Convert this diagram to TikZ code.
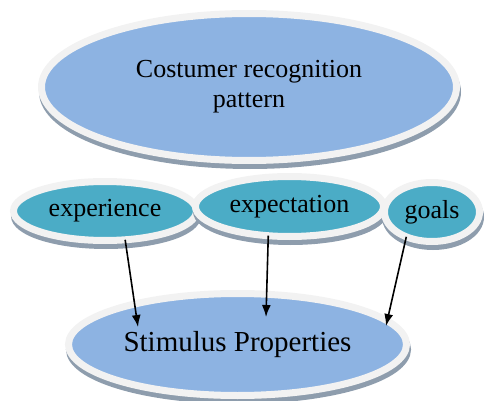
\documentclass[tikz,border=0pt]{standalone}
\usepackage{fontspec}
\setmainfont{Liberation Serif}
\usetikzlibrary{shapes, arrows.meta, shadows, calc}
\definecolor{ovalblue}{HTML}{8DB3E2}
\definecolor{ovalteal}{HTML}{4BACC6}
\definecolor{rimgray}{HTML}{F2F2F2}
\definecolor{shadegray}{HTML}{8E9DAD}
\tikzset{oval/.style={ellipse, draw=rimgray, line width=7pt, inner sep=0pt, outer sep=0pt, align=center,
           drop shadow={shadow xshift=1pt, shadow yshift=-5pt, fill=shadegray, draw=shadegray, line width=7pt, opacity=1}},
         bigoval/.style={oval, fill=ovalblue},
         smalloval/.style={oval, fill=ovalteal, font=\fontsize{26}{30}\selectfont},
         link/.style={->, line width=1.6pt}}

\begin{document}
\begin{tikzpicture}[x=1pt, y=1pt, >={Latex[length=12pt, width=9pt]}]
        \useasboundingbox (0,0) rectangle (485,400);
        \node[bigoval, minimum width=415pt, minimum height=147pt, font=\fontsize{26}{30}\selectfont] (pattern) at (249,313) {Costumer recognition\\pattern};
        \node[smalloval, minimum width=183pt, minimum height=59pt] (experience) at (105,189) {experience};
        \node[smalloval, minimum width=188pt, minimum height=60pt] (expectation) at (289.5,193.5) {expectation};
        \node[smalloval, minimum width=95pt, minimum height=59pt] (goals) at (432,188) {goals};
        \node[bigoval, minimum width=338pt, minimum height=102pt, font=\fontsize{29}{34}\selectfont] (stimulus) at (237.5,55.5) {\raisebox{-3pt}{Stimulus Properties}};

        \coordinate (in1) at ($(stimulus.center)+(-99.5,17.5)$);
        \coordinate (in2) at ($(stimulus.center)+(28.5,27.5)$);
        \coordinate (in3) at ($(stimulus.center)+(148.5,18.5)$);

        \draw[link] (experience.305) -- (in1);
        \draw[link] (expectation.234) -- (in2);
        \draw[link] (goals.224) -- (in3);
    \end{tikzpicture}
\end{document}
